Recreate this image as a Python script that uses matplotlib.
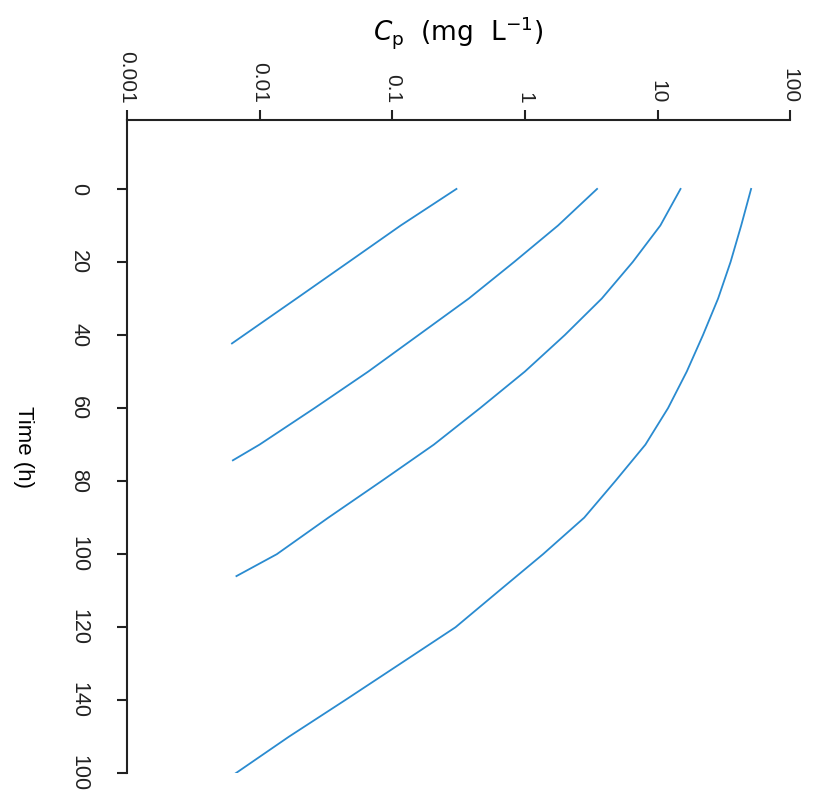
import matplotlib.pyplot as plt

# Datos (tiempo en h, concentracion en mg/L)
t1 = [0, 10, 20, 30, 42.3]
c1 = [0.305, 0.116, 0.047, 0.019, 0.0062]

t2 = [0, 10, 20, 30, 40, 50, 60, 70, 74.3]
c2 = [3.5, 1.78, 0.83, 0.378, 0.158, 0.066, 0.026, 0.010, 0.0063]

t3 = [0, 10, 20, 30, 40, 50, 60, 70, 80, 90, 100, 106]
c3 = [14.9, 10.5, 6.5, 3.8, 2.0, 1.0, 0.46, 0.206, 0.083, 0.033, 0.0135, 0.0067]

t4 = [0, 10, 20, 30, 40, 50, 60, 70, 80, 90, 100, 110, 120, 130, 140, 150, 160]
c4 = [50.7, 42.7, 35.5, 28.6, 22.0, 16.6, 12.0, 8.1, 4.8, 2.8, 1.37, 0.64, 0.30,
      0.115, 0.044, 0.0166, 0.0066]

cp_ticks = [0.001, 0.01, 0.1, 1, 10, 100]
cp_labels = ["0.001", "0.01", "0.1", "1", "10", "100"]
time_ticks = [0, 20, 40, 60, 80, 100, 120, 140, 160]
time_labels = ["0", "20", "40", "60", "80", "100", "120", "140", "100"]

plt.rcParams['font.family'] = ['Liberation Sans', 'DejaVu Sans']

fig = plt.figure(figsize=(8.13, 7.94), dpi=100)
ax = fig.add_axes([0.156, 0.026, 0.816, 0.823])

color = '#2a8bd0'
for t, c in [(t1, c1), (t2, c2), (t3, c3), (t4, c4)]:
    ax.plot(c, t, color=color, lw=1.3)

ax.set_xscale('log')
ax.set_xlim(0.001, 100)
ax.set_ylim(160, -18.9)

ax.xaxis.tick_top()
ax.set_xticks(cp_ticks)
ax.set_xticklabels(cp_labels, rotation=-90, fontsize=15, va='bottom', ha='center')
ax.xaxis.set_minor_locator(plt.NullLocator())
ax.set_yticks(time_ticks)
ax.set_yticklabels(time_labels, rotation=-90, fontsize=15.5, va='center')

ax.tick_params(axis='x', direction='out', length=7, width=1.5, pad=5, colors='#222222')
ax.tick_params(axis='y', direction='out', length=7, width=1.5, pad=20, colors='#222222')

for s in ['right', 'bottom']:
    ax.spines[s].set_visible(False)
for s in ['left', 'top']:
    ax.spines[s].set_linewidth(1.5)
    ax.spines[s].set_color('#222222')

ax.xaxis.set_label_position('top')
ax.set_xlabel(r'$C_{\mathrm{p}}$  (mg  L$^{-1}$)', fontsize=19,
              family=['DejaVu Sans'])
ax.xaxis.set_label_coords(0.5, 1.134)
ax.xaxis.label.set_va('center')
ax.set_ylabel('Time (h)', fontsize=16, rotation=-90, va='center', ha='center')
ax.yaxis.set_label_coords(-0.156, 0.5)

fig.savefig('out.png', dpi=100)
